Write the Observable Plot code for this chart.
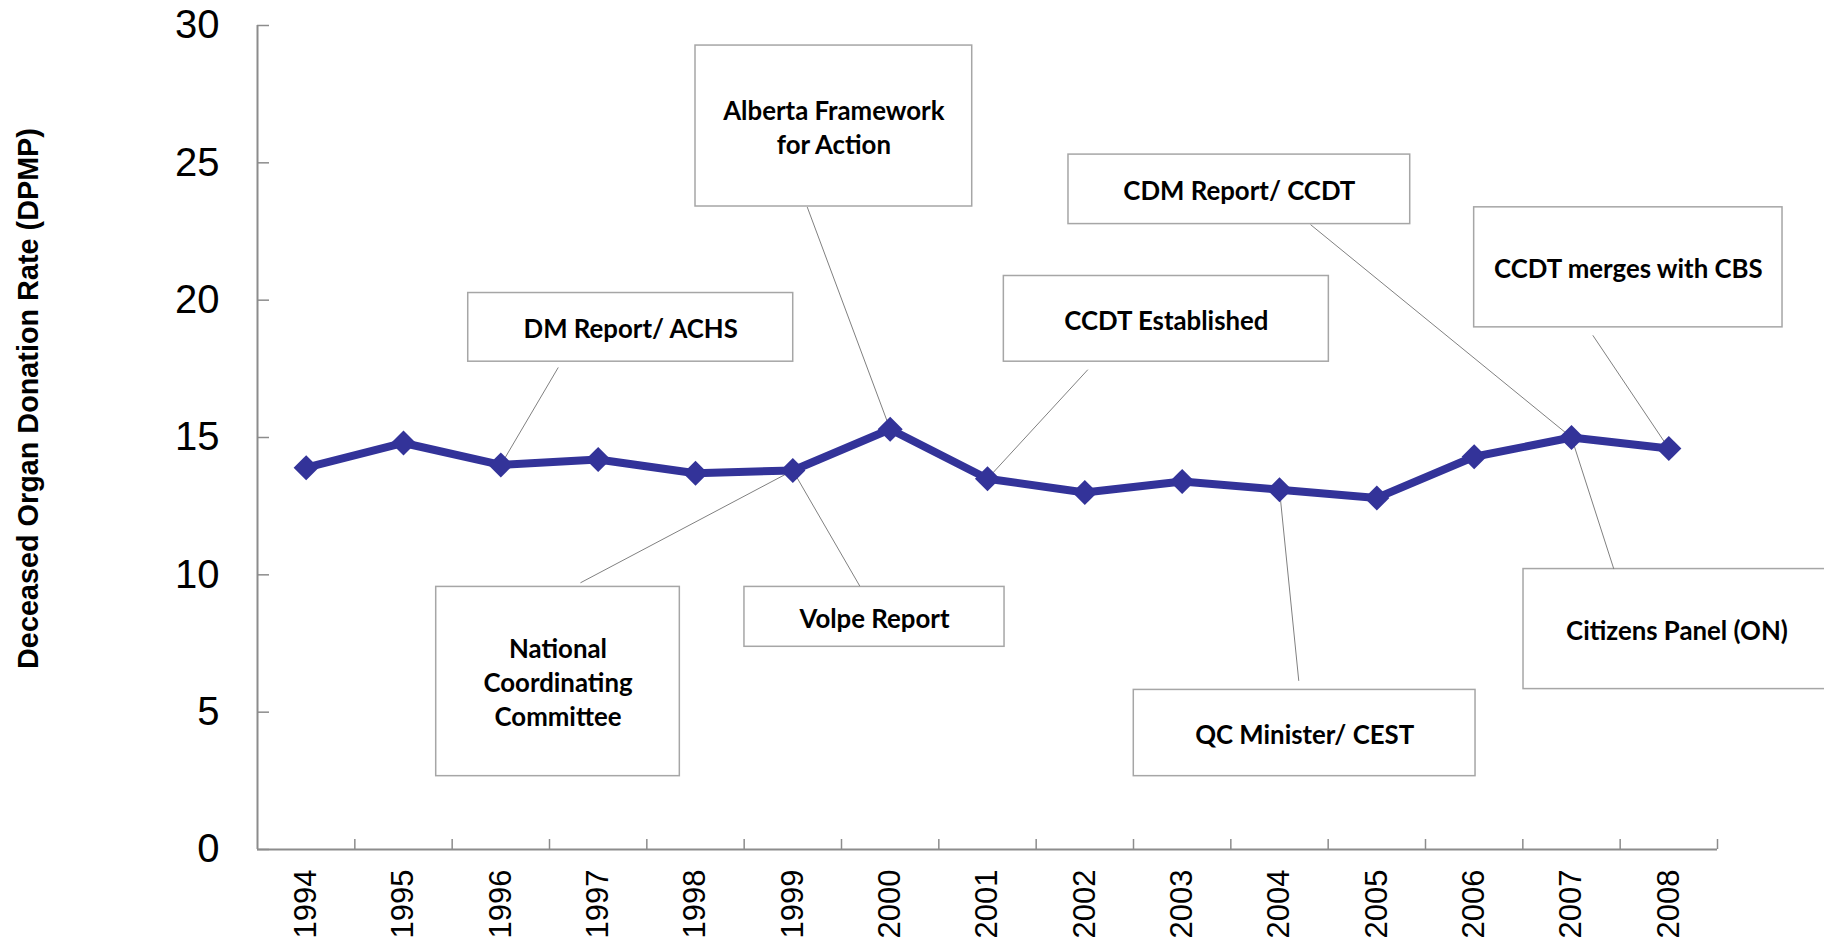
<!DOCTYPE html>
<html>
<head>
<meta charset="utf-8">
<script src="https://cdn.jsdelivr.net/npm/d3@7"></script>
<script src="https://cdn.jsdelivr.net/npm/@observablehq/plot@0.6"></script>
<style>
  html, body { margin: 0; padding: 0; background: #ffffff; }
  #chart { width: 1824px; height: 943px; overflow: hidden; }
</style>
</head>
<body>
<div id="chart"></div>
<script>
// ---- data ----
const years = [1994, 1995, 1996, 1997, 1998, 1999, 2000, 2001, 2002, 2003, 2004, 2005, 2006, 2007, 2008];
const rates = [13.9, 14.8, 14.0, 14.2, 13.7, 13.8, 15.3, 13.5, 13.0, 13.4, 13.1, 12.8, 14.3, 15.0, 14.6];
const yTicks = [0, 5, 10, 15, 20, 25, 30];
const yLabel = "Deceased Organ Donation Rate (DPMP)";

// events (callouts) and the year each one points to
const eventLabels = [
  "DM Report/ ACHS",
  "Alberta Framework\nfor Action",
  "CDM Report/ CCDT",
  "CCDT Established",
  "CCDT merges with CBS",
  "National\nCoordinating\nCommittee",
  "Volpe Report",
  "QC Minister/ CEST",
  "Citizens Panel (ON)"
];
const eventYears = [1996, 2000, 2007, 2001, 2008, 1999, 1999, 2004, 2007];

// callout placement, in data units (x = year, y = rate)
const boxLeft   = [1995.665, 1998.0,   2001.832, 2001.168, 2006.0,   1995.336, 1998.503, 2002.503, 2006.507];
const boxRight  = [1999.004, 2000.843, 2005.343, 2004.507, 2009.168, 1997.839, 2001.175, 2006.014, 2009.661];
const boxTop    = [20.26, 29.27, 25.30, 20.88, 23.38, 9.56, 9.56, 5.81, 10.21];
const boxBottom = [17.76, 23.41, 22.77, 17.76, 19.01, 2.67, 7.38, 2.67, 5.84];
const leadX     = [1996.59, 1999.148, 2004.319, 2002.031, 2007.219, 1996.818, 1999.688, 2004.198, 2007.435];
const leadY     = [17.55, 23.39, 22.75, 17.47, 18.72, 9.71, 9.59, 6.14, 10.21];

// ---- build tables ----
const series = years.map((year, i) => ({year, rate: rates[i]}));
const rateOf = new Map(series.map(d => [d.year, d.rate]));
const callouts = eventLabels.map((label, i) => ({
  label, year: eventYears[i],
  x1: boxLeft[i], x2: boxRight[i], top: boxTop[i], bottom: boxBottom[i],
  lx: leadX[i], ly: leadY[i]
}));
const xDomain = [years[0] - 0.5, years[years.length - 1] + 0.5];
const boundaries = years.map(y => y + 0.5);

const axisColor = "#8c8c8c";
const sans = "'Liberation Sans', Arial, sans-serif";

const chart = Plot.plot({
  width: 1824,
  height: 943,
  marginLeft: 257,
  marginRight: 107,
  marginTop: 25,
  marginBottom: 94,
  style: {fontFamily: sans, background: "#ffffff", color: "#000000"},
  x: {type: "linear", domain: xDomain},
  y: {domain: [0, 30]},
  marks: [
    // axis lines
    Plot.ruleX([xDomain[0]], {stroke: axisColor, strokeWidth: 2}),
    Plot.ruleY([0], {stroke: axisColor, strokeWidth: 2}),
    // inward tick marks
    Plot.axisY({ticks: yTicks, tickSize: 12, dx: 12, tickFormat: () => "", stroke: axisColor, strokeWidth: 1.5, label: null}),
    Plot.axisX({ticks: boundaries, tickSize: 10, dy: -10, tickFormat: () => "", stroke: axisColor, strokeWidth: 1.5, label: null}),
    // tick labels
    Plot.axisY({ticks: yTicks, tickSize: 0, tickPadding: 38, fontSize: 40, label: null, fill: "#000"}),
    Plot.axisX({ticks: years, tickSize: 0, tickPadding: 20, tickRotate: -90, tickFormat: d => String(d),
                fontSize: 31, label: null, fill: "#000", textAnchor: "end", lineAnchor: "middle"}),
    // y axis title
    Plot.text([yLabel], {frameAnchor: "left", textAnchor: "middle", lineAnchor: "middle", rotate: -90,
                         dx: -229, dy: -39, fontSize: 28.8, fontWeight: "bold", fill: "#000"}),
    // callout boxes
    Plot.rect(callouts, {x1: "x1", x2: "x2", y1: "bottom", y2: "top", fill: "#ffffff", stroke: "#a6a6a6", strokeWidth: 1.5}),
    // leader lines
    Plot.link(callouts, {x1: "lx", y1: "ly", x2: "year", y2: d => rateOf.get(d.year), stroke: "#808080", strokeWidth: 1}),
    // series
    Plot.line(series, {x: "year", y: "rate", stroke: "#333399", strokeWidth: 8, strokeLinejoin: "round"}),
    Plot.dot(series, {x: "year", y: "rate", symbol: "diamond2", r: 11.3, fill: "#333399", stroke: "none"}),
    // callout text
    Plot.text(callouts, {x: d => (d.x1 + d.x2) / 2, y: d => (d.top + d.bottom) / 2, text: "label",
                         fontFamily: "Lato, 'Open Sans', sans-serif", fontWeight: 700, fontSize: 25.8,
                         lineHeight: 1.32, fill: "#000"})
  ]
});
document.getElementById("chart").appendChild(chart);
</script>
</body>
</html>
